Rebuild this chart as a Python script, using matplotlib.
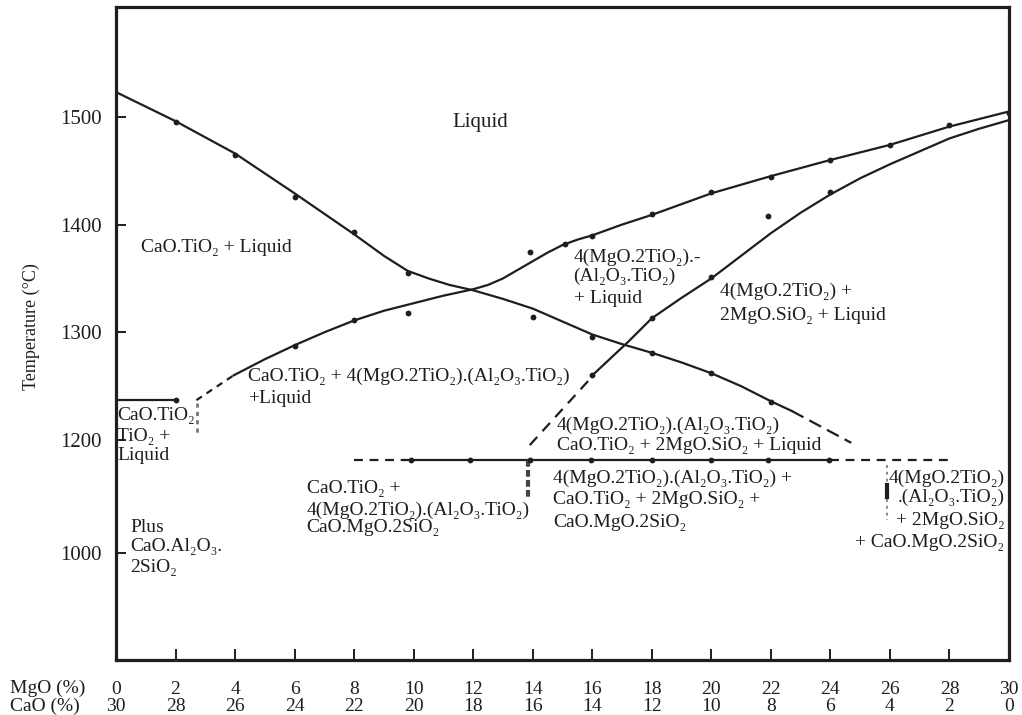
import numpy as np
import matplotlib
matplotlib.use("Agg")
import matplotlib.pyplot as plt

plt.rcParams['font.family'] = ['Liberation Serif', 'DejaVu Serif']

# ---- composition axis -------------------------------------------------
mgo_pct = [0, 2, 4, 6, 8, 10, 12, 14, 16, 18, 20, 22, 24, 26, 28, 30]
cao_pct = [30, 28, 26, 24, 22, 20, 18, 16, 14, 12, 10, 8, 6, 4, 2, 0]
temp_ticks = [1000, 1200, 1300, 1400, 1500]

# ---- CaO.TiO2 liquidus ------------------------------------------------
catio3_x = [0, 2, 4, 6, 8, 9, 9.8, 10.5, 11.2, 12, 13, 14, 15, 16, 17, 18, 19, 20, 21, 22, 22.7]
catio3_t = [1523, 1496, 1466, 1429, 1391, 1371, 1357, 1350, 1344, 1339, 1331, 1322, 1310,
            1298, 1289, 1281, 1272, 1262, 1250, 1236, 1227]
catio3_ext_x = [22.7, 24.7]
catio3_ext_t = [1227, 1195]
catio3_pts_x = [2, 4, 6, 8, 9.8, 14, 16, 18, 20, 22]
catio3_pts_t = [1495, 1465, 1426, 1393, 1355, 1314, 1296, 1281, 1262, 1235]

# ---- 4(MgO.2TiO2).(Al2O3.TiO2) liquidus -------------------------------
shelf_x = [0, 2]
shelf_t = [1237, 1237]
karr_link_x = [2.7, 3.95]
karr_link_t = [1237, 1260]
karr_x = [3.95, 5, 6, 7, 8, 9, 10, 11, 12, 12.5, 13, 13.5, 14, 14.5, 15, 15.5, 16,
          17, 18, 20, 22, 24, 26, 28, 30]
karr_t = [1260, 1275, 1288, 1300, 1311, 1320, 1327, 1334, 1340, 1344, 1350, 1358, 1366,
          1374, 1381, 1386, 1390, 1400, 1409, 1429, 1445, 1460, 1474, 1491, 1505]
karr_pts_x = [2, 6, 8, 9.8, 13.9, 15.1, 16, 18, 20, 22, 24, 26, 28, 30]
karr_pts_t = [1237, 1287, 1311, 1318, 1375, 1382, 1389, 1410, 1430, 1444, 1460, 1474, 1492, 1504]

# ---- 2MgO.SiO2 liquidus -----------------------------------------------
fost_link_x = [13.9, 16]
fost_link_t = [1191, 1259]
fost_x = [16, 17.2, 18, 19, 20, 21, 22, 23, 24, 25, 26, 27, 28, 29, 30]
fost_t = [1260, 1291, 1313, 1332, 1350, 1371, 1392, 1411, 1428, 1443, 1456, 1468, 1480, 1489, 1497]
fost_pts_x = [16, 18, 20, 21.9, 24]
fost_pts_t = [1260, 1313, 1351, 1408, 1430]

# ---- solidus ----------------------------------------------------------
solidus_t = 1165
solidus_x = [9.7, 24]
solidus_left_x = [8, 9.7]
solidus_right_x = [24, 28]
solidus_pts_x = [9.9, 11.9, 13.9, 15.95, 18, 20, 21.9, 23.95]

# ---- temperature scale: compressed below 1200 -------------------------
BREAK = 1200.0
SQUEEZE = 0.525


def fwd(t):
    t = np.asarray(t, dtype=float)
    return np.where(t >= BREAK, t, BREAK - (BREAK - t) * SQUEEZE)


def inv(u):
    u = np.asarray(u, dtype=float)
    return np.where(u >= BREAK, u, BREAK - (BREAK - u) / SQUEEZE)


fig = plt.figure(figsize=(10.22, 7.15), dpi=100)
ax = fig.add_axes([116 / 1022, 55 / 715, 893 / 1022, 653 / 715])
ax.set_yscale('function', functions=(fwd, inv))
ax.set_xlim(0, 30)
ax.set_ylim(811, 1602)

ink = '#1e1e1e'
lw = 1.6

# liquidus curves
ax.plot(catio3_x, catio3_t, color=ink, lw=lw, solid_joinstyle='round')
ax.plot(catio3_ext_x, catio3_ext_t, color=ink, lw=lw, ls=(0, (6, 3)))
ax.plot(shelf_x, shelf_t, color=ink, lw=lw)
ax.plot(karr_link_x, karr_link_t, color=ink, lw=lw, ls=(0, (3, 2.5)))
ax.plot(karr_x, karr_t, color=ink, lw=lw, solid_joinstyle='round')
ax.plot(fost_link_x, fost_link_t, color=ink, lw=lw, ls=(0, (5, 3.5)))
ax.plot(fost_x, fost_t, color=ink, lw=lw, solid_joinstyle='round')

# solidus
ax.plot(solidus_x, [solidus_t] * 2, color=ink, lw=lw)
ax.plot(solidus_left_x, [solidus_t] * 2, color=ink, lw=lw, ls=(0, (4, 3)))
ax.plot(solidus_right_x, [solidus_t] * 2, color=ink, lw=lw, ls=(0, (4, 3)))

# vertical boundaries below the solidus
ax.plot([2.72, 2.72], [1234, 1206], color='#777777', lw=2.0, ls=(0, (1.5, 1.5)))
ax.plot([13.85, 13.85], [1165, 1099], color='#444444', lw=3.0, ls=(0, (1.6, 0.8)))
ax.plot([25.9, 25.9], [1156, 1058], color='#888888', lw=1.4, ls=(0, (1.5, 2)))
ax.plot([25.9, 25.9], [1120, 1099], color=ink, lw=3.0)

# measured points
for px, pt in [(catio3_pts_x, catio3_pts_t), (karr_pts_x, karr_pts_t),
               (fost_pts_x, fost_pts_t), (solidus_pts_x, [solidus_t] * len(solidus_pts_x))]:
    ax.plot(px, pt, 'o', color=ink, ms=4.2, mec='none')

# axes styling
for s in ax.spines.values():
    s.set_linewidth(2.3)
    s.set_color(ink)

ax.set_yticks(temp_ticks)
ax.set_yticklabels([str(t) for t in temp_ticks])
ax.tick_params(axis='y', direction='in', length=7, width=1.4, labelsize=15, pad=10, colors=ink)
ax.set_xticks(mgo_pct)
ax.set_xticklabels([f"{m}\n{c}" for m, c in zip(mgo_pct, cao_pct)])
ax.tick_params(axis='x', direction='in', length=8, width=1.4, labelsize=14, pad=15, colors=ink)
for lbl in ax.get_xticklabels():
    lbl.set_linespacing(1.05)
ax.xaxis.set_ticks_position('bottom')
ax.yaxis.set_ticks_position('left')

fig.text(10 / 1022, 1 - 688 / 715, 'MgO (%)', fontsize=14, va='center', ha='left', color=ink)
fig.text(10 / 1022, 1 - 706 / 715, 'CaO (%)', fontsize=14, va='center', ha='left', color=ink)

ax.set_ylabel('Temperature (°C)', fontsize=13, color=ink)
ax.yaxis.set_label_coords(-0.085, 0.51)


def region(x, temps, lines, ha='left', size=14):
    for t, s in zip(temps, lines):
        ax.text(x, t, s, ha=ha, va='center', fontsize=size, color=ink)


region(12.24, [1495], ['Liquid'], ha='center', size=15)
region(0.84, [1379], ['CaO.TiO₂ + Liquid'])
region(4.44, [1259, 1239], ['CaO.TiO₂ + 4(MgO.2TiO₂).(Al₂O₃.TiO₂)', '+Liquid'])
region(0.05, [1223, 1203, 1173], ['CaO.TiO₂', 'TiO₂ +', 'Liquid'])
region(0.47, [1046, 1011, 974], ['Plus', 'CaO.Al₂O₃.', '2SiO₂'])
region(6.4, [1115, 1076, 1046], ['CaO.TiO₂ +', '4(MgO.2TiO₂).(Al₂O₃.TiO₂)', 'CaO.MgO.2SiO₂'])
region(14.68, [1133, 1094, 1055], ['4(MgO.2TiO₂).(Al₂O₃.TiO₂) +', 'CaO.TiO₂ + 2MgO.SiO₂ +', 'CaO.MgO.2SiO₂'])
region(14.8, [1214, 1191], ['4(MgO.2TiO₂).(Al₂O₃.TiO₂)', 'CaO.TiO₂ + 2MgO.SiO₂ + Liquid'])
region(15.37, [1370, 1352, 1331], ['4(MgO.2TiO₂).-', '(Al₂O₃.TiO₂)', '+ Liquid'])
region(20.3, [1338, 1316], ['4(MgO.2TiO₂) +', '2MgO.SiO₂ + Liquid'])
region(29.85, [1133, 1099, 1058, 1019],
       ['4(MgO.2TiO₂)', '.(Al₂O₃.TiO₂)', '+ 2MgO.SiO₂', '+ CaO.MgO.2SiO₂'], ha='right')

fig.savefig('out.png', dpi=100)
